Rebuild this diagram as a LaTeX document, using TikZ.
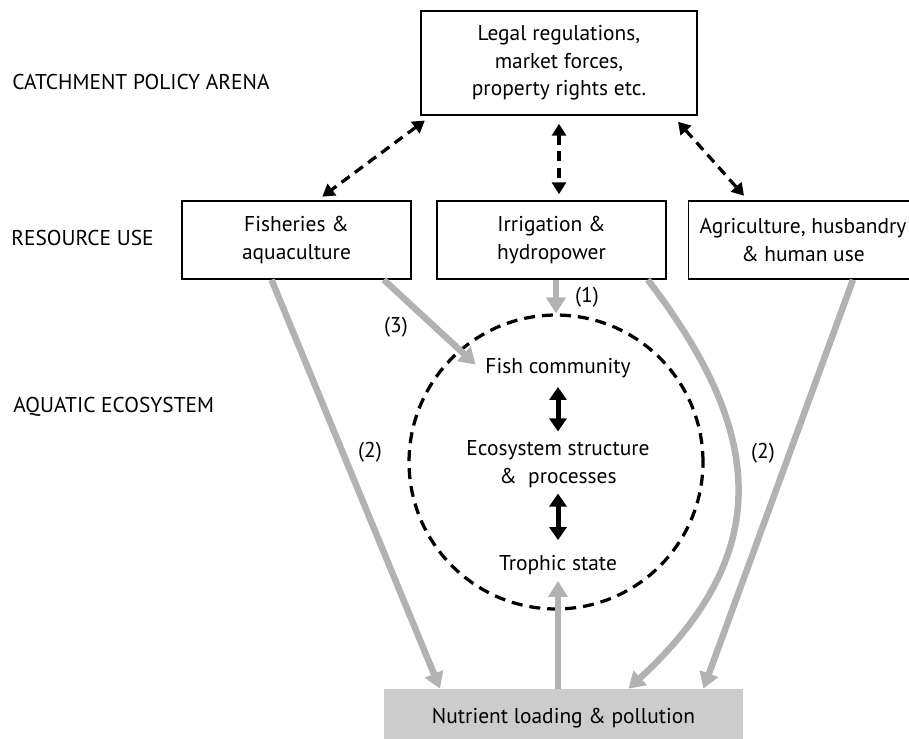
\documentclass[tikz,border=0pt]{standalone}
\usepackage{fontspec}
\setmainfont{PT Sans}
\usetikzlibrary{arrows.meta}
\definecolor{arrgray}{RGB}{178,178,178}
\definecolor{boxgray}{RGB}{204,204,204}

\begin{document}
\begin{tikzpicture}[x=0.02cm, y=-0.02cm,
    every node/.style={font=\fontsize{12.2}{15.6}\selectfont, align=center},
    box/.style={draw, line width=0.03cm, minimum width=4.58cm, minimum height=1.56cm, inner sep=0pt},
    dasharr/.style={line width=0.065cm, dash pattern=on 0.2cm off 0.13cm,
        {Triangle[width=0.28cm,length=0.24cm]}-{Triangle[width=0.28cm,length=0.24cm]},
        shorten <=0.16cm, shorten >=0.12cm},
    grayarr/.style={line width=0.13cm, draw=arrgray, -{Triangle[width=0.38cm,length=0.32cm]}},
    blackarr/.style={line width=0.1cm,
        {Triangle[width=0.34cm,length=0.26cm]}-{Triangle[width=0.34cm,length=0.26cm]}},
  ]
    \useasboundingbox (0,0) rectangle (909,739);
    % levels
    \node[anchor=west, inner sep=0pt] (arena) at (12,82) {CATCHMENT POLICY ARENA};
    \node[anchor=west, inner sep=0pt] (resuse) at (11,238) {RESOURCE USE};
    \node[anchor=west, inner sep=0pt] (aquatic) at (13,407) {AQUATIC ECOSYSTEM};
    % boxes
    \node[box, minimum width=5.52cm, minimum height=2.08cm] (policy) at (559,63) {Legal regulations,\\ market forces,\\ property rights etc.};
    \node[box] (fish) at (296.5,240) {Fisheries \&\\ aquaculture};
    \node[box] (irr) at (551.5,240) {Irrigation \&\\ hydropower};
    \node[box] (agri) at (803,240) {Agriculture, husbandry\\ \& human use};
    \node[fill=boxgray, minimum width=7.18cm, minimum height=1.16cm] (nutr) at (563.5,718) {Nutrient loading \& pollution};
    % ecosystem
    \node[draw, circle, line width=0.065cm, dash pattern=on 0.22cm off 0.14cm, minimum size=5.88cm] (eco) at (556,462) {};
    \node (fishc) at (558,368) {Fish community};
    \node (struct) at (558,464) {Ecosystem structure\\ \& \ processes};
    \node (troph) at (558,565) {Trophic state};
    \draw[blackarr, shorten <=0.06cm, shorten >=0.06cm] (fishc.south) -- (struct.north);
    \draw[blackarr, shorten >=0.18cm] (struct.south) -- (troph.north);
    % policy links
    \draw[dasharr] ([xshift=0.22cm]policy.south west) -- ([xshift=0.42cm]fish.north);
    \draw[dasharr] (policy.south) -- (policy.south |- irr.north);
    \draw[dasharr] ([xshift=-0.5cm]policy.south east) -- ([xshift=-1.1cm]agri.north);
    % impacts
    \draw[grayarr] (eco.north |- irr.south) -- (eco.north);
    \node (one) at (587,297) {(1)};
    \draw[grayarr, shorten >=0.1cm] ([xshift=-0.56cm]fish.south east) -- (fishc.west);
    \node (three) at (396,327) {(3)};
    \draw[grayarr] ([xshift=-0.5cm]fish.south) -- ([xshift=-2.47cm]nutr.north);
    \node (twoleft) at (370,452) {(2)};
    \draw[grayarr] ([xshift=-0.38cm]irr.south east) .. controls (755,420) and (785,545) .. ([xshift=1.3cm]nutr.north);
    \draw[grayarr] ([xshift=1cm]agri.south) -- ([xshift=2.8cm]nutr.north);
    \node (tworight) at (763,453) {(2)};
    \draw[grayarr] (troph |- nutr.north) -- (troph.south);
\end{tikzpicture}
\end{document}
